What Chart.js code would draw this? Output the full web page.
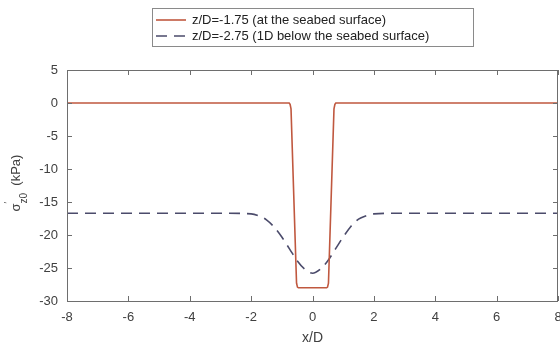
<!DOCTYPE html>
<html>
<head>
<meta charset="utf-8">
<script src="https://cdn.jsdelivr.net/npm/chart.js@4"></script>
<style>
  html, body { margin: 0; padding: 0; background: #fff; }
  #wrap { width: 560px; height: 348px; }
</style>
</head>
<body>
<div id="wrap"><canvas id="stressChart"></canvas></div>
<script>
const seabedX = [-8, -0.76, -0.73, -0.7, -0.52, -0.49, -0.46, 0.46, 0.49, 0.52, 0.7, 0.73, 0.76, 8];
const seabedY = [0, 0, -0.2, -0.9, -27.3, -27.9, -28, -28, -27.9, -27.3, -0.9, -0.2, 0, 0];

const belowX = [-8, -3, -2, -1.75, -1.5, -1.25, -1, -0.75, -0.5, -0.25, 0, 0.25, 0.5, 0.75, 1, 1.25, 1.5, 1.75, 2, 3, 8];
const belowY = [-16.7, -16.7, -16.8, -17.1, -17.7, -18.8, -20.3, -22.1, -23.9, -25.2, -25.8, -25.2, -23.9, -22.1, -20.3, -18.7, -17.6, -17.1, -16.8, -16.7, -16.7];

const seriesLabels = ['z/D=-1.75 (at the seabed surface)', 'z/D=-2.75 (1D below the seabed surface)'];
const xTicks = [-8, -6, -4, -2, 0, 2, 4, 6, 8];
const yTicks = [5, 0, -5, -10, -15, -20, -25, -30];

const FONT = '"Liberation Sans", Arial, sans-serif';
const axisColor = '#6e6e6e';
const textColor = '#404040';

const toPoints = (xs, ys) => xs.map((x, i) => ({ x, y: ys[i] }));

// box, inward ticks, y title and the boxed legend
const boxTicks = {
  id: 'boxTicks',
  afterDraw(chart) {
    const { ctx, chartArea: a, scales } = chart;
    ctx.save();
    ctx.strokeStyle = axisColor;
    ctx.lineWidth = 1;
    ctx.strokeRect(a.left + 0.5, a.top + 0.5, a.right - a.left - 1, a.bottom - a.top);
    ctx.beginPath();
    xTicks.forEach(v => {
      const px = Math.round(scales.x.getPixelForValue(v)) + 0.5;
      ctx.moveTo(px, a.bottom); ctx.lineTo(px, a.bottom - 5);
      ctx.moveTo(px, a.top); ctx.lineTo(px, a.top + 5);
    });
    yTicks.forEach(v => {
      const py = Math.round(scales.y.getPixelForValue(v)) + 0.5;
      ctx.moveTo(a.left, py); ctx.lineTo(a.left + 5, py);
      ctx.moveTo(a.right, py); ctx.lineTo(a.right - 5, py);
    });
    ctx.stroke();

    // y title: sigma' with z0 subscript
    ctx.translate(20, 183);
    ctx.rotate(-Math.PI / 2);
    ctx.fillStyle = textColor;
    ctx.textBaseline = 'alphabetic';
    ctx.font = '13px ' + FONT;
    const w1 = ctx.measureText('σ').width;
    ctx.font = '10px ' + FONT;
    const w2 = ctx.measureText('z0').width;
    ctx.font = '13px ' + FONT;
    const w3 = ctx.measureText('  (kPa)').width;
    const x0 = -(w1 + w2 + w3) / 2;
    ctx.fillText('σ', x0, 0);
    ctx.font = '9px ' + FONT;
    ctx.fillText('′', x0 + w1, -10);
    ctx.font = '10px ' + FONT;
    ctx.fillText('z0', x0 + w1, 7);
    ctx.font = '13px ' + FONT;
    ctx.fillText('  (kPa)', x0 + w1 + w2, 0);
    ctx.restore();

    // legend
    ctx.save();
    const L = 152, T = 8, R = 473, B = 46;
    ctx.fillStyle = '#fff';
    ctx.fillRect(L, T, R - L, B - T);
    ctx.strokeStyle = '#8a8a8a';
    ctx.lineWidth = 1;
    ctx.strokeRect(L + 0.5, T + 0.5, R - L, B - T);
    ctx.font = '13px ' + FONT;
    ctx.textBaseline = 'middle';
    chart.data.datasets.forEach((ds, i) => {
      const yy = 20 + i * 16;
      ctx.strokeStyle = ds.borderColor;
      ctx.lineWidth = 1.6;
      ctx.setLineDash(ds.borderDash || []);
      ctx.beginPath();
      ctx.moveTo(156, yy); ctx.lineTo(186, yy);
      ctx.stroke();
      ctx.setLineDash([]);
      ctx.fillStyle = '#222';
      ctx.fillText(ds.label, 192, yy);
    });
    ctx.restore();
  }
};

new Chart(document.getElementById('stressChart'), {
  type: 'scatter',
  data: {
    datasets: [{
      label: seriesLabels[0],
      data: toPoints(seabedX, seabedY),
      showLine: true,
      borderColor: '#c0583f',
      borderWidth: 1.6,
      pointRadius: 0
    }, {
      label: seriesLabels[1],
      data: toPoints(belowX, belowY),
      showLine: true,
      borderColor: '#4b4b6b',
      borderWidth: 1.6,
      borderDash: [11, 7],
      pointRadius: 0,
      cubicInterpolationMode: 'monotone'
    }]
  },
  options: {
    responsive: true,
    maintainAspectRatio: false,
    animation: false,
    layout: { padding: { top: 70, right: 2, left: 0, bottom: 0 } },
    plugins: { legend: { display: false }, tooltip: { enabled: false } },
    scales: {
      x: {
        type: 'linear', min: -8, max: 8,
        afterBuildTicks: s => { s.ticks = xTicks.map(v => ({ value: v })); },
        afterFit: s => { s.height = 47; s.paddingLeft = 0; s.paddingRight = 0; },
        grid: { display: false, drawTicks: false },
        border: { display: false },
        ticks: { color: textColor, font: { family: FONT, size: 13 }, padding: 9 },
        title: { display: true, text: 'x/D', color: textColor, font: { family: FONT, size: 14 }, padding: { top: 0, bottom: 1 } }
      },
      y: {
        type: 'linear', min: -30, max: 5,
        afterBuildTicks: s => { s.ticks = yTicks.map(v => ({ value: v })); },
        afterFit: s => { s.width = 67; s.paddingTop = 0; s.paddingBottom = 0; },
        grid: { display: false, drawTicks: false },
        border: { display: false },
        ticks: { color: textColor, font: { family: FONT, size: 13 }, padding: 9 }
      }
    }
  },
  plugins: [boxTicks]
});
</script>
</body>
</html>
